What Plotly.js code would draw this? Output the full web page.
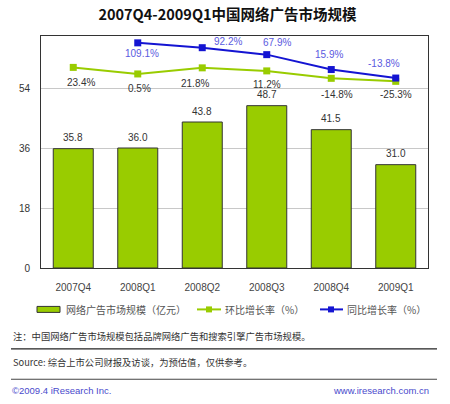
<!DOCTYPE html>
<html><head><meta charset="utf-8">
<script src="https://cdn.plot.ly/plotly-3.0.1.min.js"></script>
<style>body{margin:0;background:#fff}#c{width:450px;height:404px}</style>
</head><body><div id="c"></div>
<script>
// ---- data ----
const categories = ['2007Q4','2008Q1','2008Q2','2008Q3','2008Q4','2009Q1'];
const marketSize = [35.8, 36.0, 43.8, 48.7, 41.5, 31.0];          // 亿元
const qoqGrowth  = [23.4, 0.5, 21.8, 11.2, -14.8, -25.3];          // 环比 %
const yoyGrowth  = [null, 109.1, 92.2, 67.9, 15.9, -13.8];         // 同比 %
const yTicks = [0, 18, 36, 54];
const seriesNames = ['网络广告市场规模（亿元）', '环比增长率（%）', '同比增长率（%）'];
const titleText = '2007Q4-2009Q1中国网络广告市场规模';
const noteText = '注：中国网络广告市场规模包括品牌网络广告和搜索引擎广告市场规模。';
const sourceText = 'Source: 综合上市公司财报及访谈，为预估值，仅供参考。';
const copyText = '©2009.4 iResearch Inc.';
const urlText = 'www.iresearch.com.cn';

// ---- style ----
const FONT = 'Liberation Sans, Arial, Noto Sans CJK SC, sans-serif';
const CJK = 'Noto Sans CJK SC, Liberation Sans, sans-serif';
const GREEN = '#99cc00', BLUE = '#1414d2';
const L = 41, R = 22, T = 36, B = 135.5, W = 450, H = 404;
const pw = W - L - R, ph = H - T - B;
const px = x => (x - L) / pw;
const py = y => (H - B - y) / ph;
// label offsets (pixels) for line labels
const qoqOff = [[8,-15],[2,-15],[-7,-16],[0,-14],[6,-16],[0,-13]];
const yoyOff = [null,[4,-11],[26,6],[10,12],[-2,15],[-12,15]];

const traces = [
  {type:'bar', x:categories, y:marketSize, name:seriesNames[0],
   marker:{color:GREEN, line:{color:'#333', width:1}}, hoverinfo:'skip'},
  {type:'scatter', mode:'lines+markers', x:categories, y:qoqGrowth, yaxis:'y2', name:seriesNames[1],
   line:{color:GREEN, width:2}, marker:{color:GREEN, symbol:'square', size:7}},
  {type:'scatter', mode:'lines+markers', x:categories, y:yoyGrowth, yaxis:'y2', name:seriesNames[2],
   line:{color:BLUE, width:2}, marker:{color:BLUE, symbol:'square', size:7}, connectgaps:false}
];

const ann = [];
categories.forEach((c,i)=>{
  ann.push({x:c, y:marketSize[i], xref:'x', yref:'y', text:marketSize[i].toFixed(1),
    showarrow:false, yshift:11, font:{family:FONT,size:10,color:'#333'}});
  ann.push({x:c, y:qoqGrowth[i], xref:'x', yref:'y2', text:qoqGrowth[i].toFixed(1)+'%',
    showarrow:false, xshift:qoqOff[i][0], yshift:qoqOff[i][1], font:{family:FONT,size:10,color:'#333'}});
  if (yoyGrowth[i] !== null) {
    ann.push({x:c, y:yoyGrowth[i], xref:'x', yref:'y2', text:yoyGrowth[i].toFixed(1)+'%',
      showarrow:false, xshift:yoyOff[i][0], yshift:yoyOff[i][1], font:{family:FONT,size:10,color:'#5a5ae0'}});
  }
});
// legend texts
const legTextX = [64, 223, 345];
seriesNames.forEach((n,i)=>ann.push({xref:'paper', yref:'paper', x:px(legTextX[i]), y:py(310), text:n,
  showarrow:false, xanchor:'left', yanchor:'middle', font:{family:CJK,size:10,color:'#555'}}));
// footer texts
ann.push({xref:'paper',yref:'paper',x:px(11),y:py(337),text:noteText,showarrow:false,xanchor:'left',yanchor:'middle',font:{family:CJK,size:9.3,color:'#333'}});
ann.push({xref:'paper',yref:'paper',x:px(11),y:py(363),text:sourceText,showarrow:false,xanchor:'left',yanchor:'middle',font:{family:CJK,size:9.3,color:'#333'}});
ann.push({xref:'paper',yref:'paper',x:px(10),y:py(391),text:copyText,showarrow:false,xanchor:'left',yanchor:'middle',font:{family:FONT,size:9.5,color:'#4a4acc'}});
ann.push({xref:'paper',yref:'paper',x:px(431),y:py(391),text:urlText,showarrow:false,xanchor:'right',yanchor:'middle',font:{family:FONT,size:9.5,color:'#4a4acc'}});

const shapes = [
  // legend: bar swatch
  {type:'rect', xref:'paper', yref:'paper', x0:px(37), x1:px(60), y0:py(307), y1:py(313), fillcolor:GREEN, line:{color:'#333',width:1}},
  // legend: qoq line + marker
  {type:'line', xref:'paper', yref:'paper', x0:px(197), x1:px(221), y0:py(310), y1:py(310), line:{color:GREEN,width:2}},
  {type:'rect', xref:'paper', yref:'paper', x0:px(206), x1:px(212), y0:py(307), y1:py(313), fillcolor:GREEN, line:{width:0}},
  // legend: yoy line + marker
  {type:'line', xref:'paper', yref:'paper', x0:px(320), x1:px(343), y0:py(310), y1:py(310), line:{color:BLUE,width:2}},
  {type:'rect', xref:'paper', yref:'paper', x0:px(328), x1:px(334), y0:py(307), y1:py(313), fillcolor:BLUE, line:{width:0}},
  // footer rules
  {type:'line', xref:'paper', yref:'paper', x0:px(11), x1:px(437), y0:py(349.5), y1:py(349.5), line:{color:'#222',width:1.2}},
  {type:'line', xref:'paper', yref:'paper', x0:px(11), x1:px(437), y0:py(380), y1:py(380), line:{color:'#444',width:1.2}}
];

const layout = {
  width:W, height:H, margin:{l:L, r:R, t:T, b:B, pad:0},
  paper_bgcolor:'#fff', plot_bgcolor:'#fff', showlegend:false,
  title:{text:'<b>'+titleText+'</b>', x:227.5/W, xanchor:'center', y:1-15/H, yanchor:'middle',
         font:{family:CJK, size:14.5, color:'#111'}},
  bargap:0.38,
  xaxis:{type:'category', showline:true, linecolor:'#333', linewidth:1, mirror:true,
         ticks:'', tickfont:{family:FONT,size:10,color:'#444'}, ticklabelstandoff:10, showgrid:false, zeroline:false},
  yaxis:{range:[0,69.6], tickvals:yTicks, showline:true, linecolor:'#333', linewidth:1, mirror:true,
         gridcolor:'#c8c8c8', gridwidth:1, zeroline:false, ticks:'outside', ticklen:6, tickcolor:'rgba(0,0,0,0)',
         tickfont:{family:FONT,size:10,color:'#333'}, ticklabelstandoff:2},
  yaxis2:{overlaying:'y', side:'right', range:[-677,133], visible:false, showgrid:false, zeroline:false},
  annotations:ann, shapes:shapes, font:{family:FONT}
};
Plotly.newPlot('c', traces, layout, {staticPlot:true, displayModeBar:false});
</script></body></html>
